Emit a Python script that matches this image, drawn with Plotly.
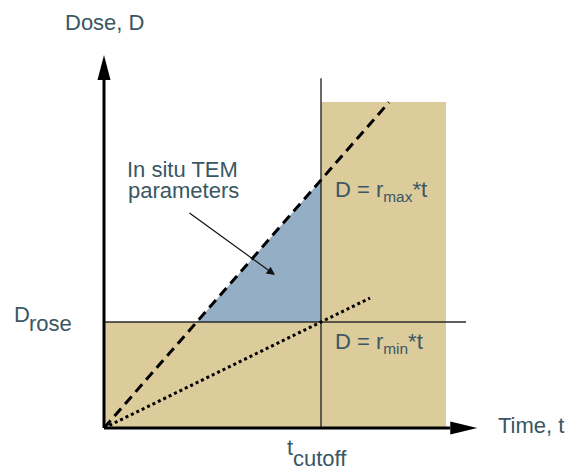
import plotly.graph_objects as go

# ---- data (schematic values, units: t_cutoff = 1, D_rose = 1) ----
t_cutoff = 1.0
D_rose = 1.0
r_max = 2.34
r_min = 1.0
dashed_t_end = [0.0, 1.313]
dotted_t_end = [0.0, 1.226]
region_t_end = 1.576
region_D_top = 3.075
cutoff_line_top = 3.30
rose_line_end = 1.668
y_axis_tip = 3.52
x_axis_tip = 1.72

# text labels
y_label = "Dose, D"
x_label = "Time, t"
param_lines = ["In situ TEM", "parameters"]
rmax_label = "D = r<sub>max</sub>*t"
rmin_label = "D = r<sub>min</sub>*t"

TAN = "#dccb9b"
BLUE = "#94afc5"
TXT = "#3a5763"
FONT = "Liberation Sans, Arial, sans-serif"

W, H = 566, 469
ox, oy = 104, 428          # origin pixel inside the figure
sx, sy = 217.0, 106.0      # px per data unit

fig = go.Figure()

# tan region
fig.add_trace(go.Scatter(
    x=[0, region_t_end, region_t_end, t_cutoff, t_cutoff, 0, 0],
    y=[0, 0, region_D_top, region_D_top, D_rose, D_rose, 0],
    fill="toself", fillcolor=TAN, line=dict(width=0), mode="lines",
    hoverinfo="skip", showlegend=False))

# blue triangle
fig.add_trace(go.Scatter(
    x=[D_rose / r_max, t_cutoff, t_cutoff, D_rose / r_max],
    y=[D_rose, D_rose, r_max * t_cutoff, D_rose],
    fill="toself", fillcolor=BLUE, line=dict(width=0), mode="lines",
    hoverinfo="skip", showlegend=False))

# thin reference lines
fig.add_trace(go.Scatter(x=[t_cutoff, t_cutoff], y=[0, cutoff_line_top], mode="lines",
                         line=dict(color="#2a2a2a", width=1.4), hoverinfo="skip", showlegend=False))
fig.add_trace(go.Scatter(x=[0, rose_line_end], y=[D_rose, D_rose], mode="lines",
                         line=dict(color="#2a2a2a", width=1.4), hoverinfo="skip", showlegend=False))

# dose-rate lines
fig.add_trace(go.Scatter(x=dashed_t_end, y=[r_max * t for t in dashed_t_end], mode="lines",
                         line=dict(color="black", width=3, dash="10px,6px"),
                         hoverinfo="skip", showlegend=False))
fig.add_trace(go.Scatter(x=dotted_t_end, y=[r_min * t for t in dotted_t_end], mode="lines",
                         line=dict(color="black", width=3, dash="3px,3px"),
                         hoverinfo="skip", showlegend=False))

# axes with arrowheads
yh_base = y_axis_tip - 25 / sy
xh_base = x_axis_tip - 27 / sx
fig.add_shape(type="line", x0=0, y0=0, x1=0, y1=yh_base, line=dict(color="black", width=3))
fig.add_shape(type="line", x0=0, y0=0, x1=xh_base, y1=0, line=dict(color="black", width=3))
hw = 6.5
fig.add_shape(type="path",
              path=f"M {-hw/sx} {yh_base} L {hw/sx} {yh_base} L 0 {y_axis_tip} Z",
              fillcolor="black", line=dict(width=0))
fig.add_shape(type="path",
              path=f"M {xh_base} {-hw/sy} L {xh_base} {hw/sy} L {x_axis_tip} 0 Z",
              fillcolor="black", line=dict(width=0))

def txt(x, y, text, xanchor="center", size=22):
    fig.add_annotation(x=x, y=y, text=text, showarrow=False, xanchor=xanchor, yanchor="middle",
                       font=dict(family=FONT, size=size, color=TXT))

txt(0, (oy - 22) / sy, y_label)
txt(1.806, 0.02, x_label, xanchor="left")
txt(0.363, (oy - 169) / sy, param_lines[0])
txt(0.366, (oy - 190) / sy, param_lines[1])
txt(1.055, 2.24, rmax_label, xanchor="left")
txt(1.055, 0.80, rmin_label, xanchor="left")
# D_rose
txt(-0.425, (oy - 314) / sy, "D", xanchor="left")
txt(-0.425 + 15.5 / sx, (oy - 323) / sy, "rose", xanchor="left")
# t_cutoff
txt(t_cutoff - 36 / sx, (oy - 447) / sy, "t", xanchor="left")
txt(t_cutoff - 30 / sx, (oy - 458) / sy, "cutoff", xanchor="left")

# pointer arrow
fig.add_annotation(x=0.788, y=1.443, ax=0.387, ay=2.038, axref="x", ayref="y",
                   xref="x", yref="y", text="", showarrow=True,
                   arrowhead=2, arrowsize=1.4, arrowwidth=1.2, arrowcolor="#111")

fig.update_layout(
    width=W, height=H, margin=dict(l=0, r=0, t=0, b=0),
    paper_bgcolor="white", plot_bgcolor="white",
    xaxis=dict(range=[-ox / sx, (W - ox) / sx], visible=False, fixedrange=True),
    yaxis=dict(range=[(oy - H) / sy, oy / sy], visible=False, fixedrange=True),
    showlegend=False,
)
fig.write_html(
    "out.html",
    config={"displayModeBar": False},
    post_script="document.body.style.margin='0';document.body.style.overflow='hidden';",
)
